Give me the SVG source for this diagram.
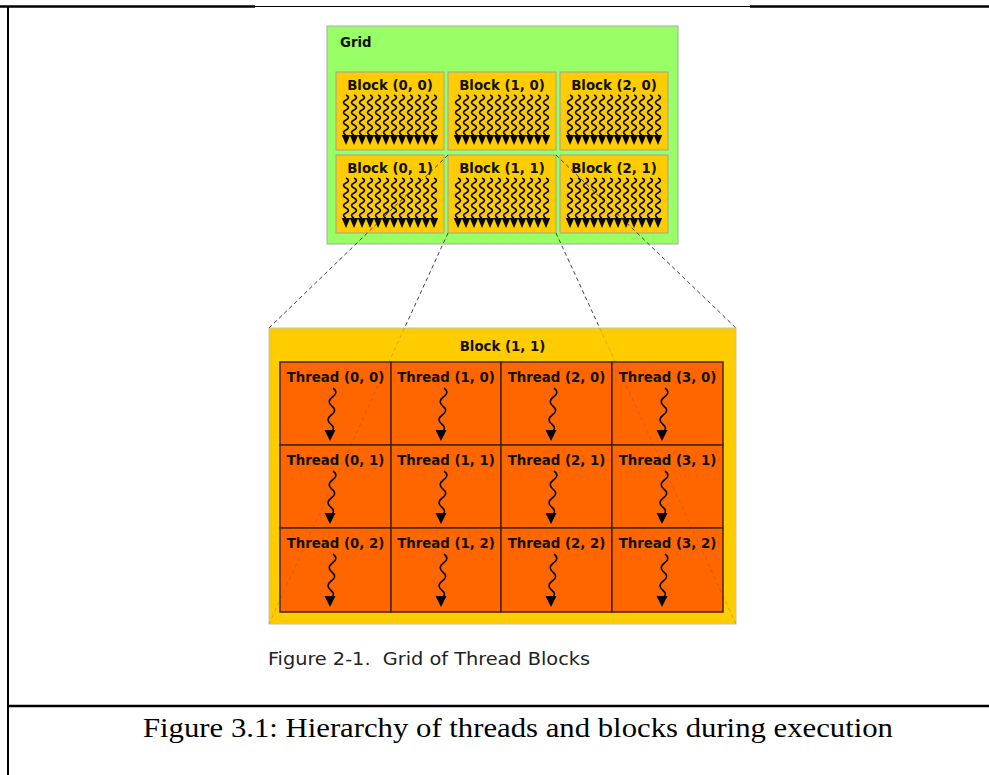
<svg xmlns="http://www.w3.org/2000/svg" xmlns:xlink="http://www.w3.org/1999/xlink" width="989" height="775" viewBox="0 0 989 775">
<style>
.frame{stroke:#000;fill:none}
.lbl{font-family:"DejaVu Sans",Verdana,sans-serif;font-weight:bold;font-size:13.3px;fill:#111100;text-anchor:middle}
.blk{fill:#FFCC00;stroke:#a0a0a0;stroke-width:1}
.cell{fill:#FF6600;stroke:#4a2400;stroke-width:1.5}
.wave{fill:none;stroke:#000;stroke-width:1.6}
.bwave{fill:none;stroke:#000;stroke-width:1.6}
.conn{stroke:#444;stroke-width:1;stroke-dasharray:4 3;fill:none}
.connf{stroke:#444;stroke-opacity:0.25;stroke-width:1;stroke-dasharray:4 3;fill:none}
</style>
<defs>
<g id="sw">
<path class="wave" d="M0 0 q5 2.5 0 5 q-5 2.5 0 5 q5 2.5 0 5 q-5 2.5 0 5 q5 2.5 0 5 q-5 2.5 0 5 q5 2.5 0 5 q-5 2.5 0 5"/>
<polygon points="-4.2,40 4.2,40 0,50" fill="#000"/>
</g>
<g id="thr12">
<use xlink:href="#sw" x="0"/><use xlink:href="#sw" x="8"/><use xlink:href="#sw" x="16"/><use xlink:href="#sw" x="24"/>
<use xlink:href="#sw" x="32"/><use xlink:href="#sw" x="40"/><use xlink:href="#sw" x="48"/><use xlink:href="#sw" x="56"/>
<use xlink:href="#sw" x="64"/><use xlink:href="#sw" x="72"/><use xlink:href="#sw" x="80"/><use xlink:href="#sw" x="88"/>
</g>
<g id="bw">
<path class="bwave" d="M0 0 q6 4.5 -0.6 9 q-6 4.5 -0.6 9 q6 4.5 -0.6 9 q-6 4.5 -0.6 9 q6 4.5 -0.6 9"/>
<polygon points="-8.5,42 2.5,42 -3,53" fill="#000"/>
</g>
</defs>

<g id="page-frame">
<line class="frame" x1="0" y1="6.5" x2="255" y2="6.5" stroke-width="2.5"/>
<line class="frame" x1="255" y1="6.5" x2="750" y2="6.5" stroke-width="1" stroke="#444"/>
<line class="frame" x1="750" y1="6.5" x2="989" y2="6.5" stroke-width="2.5"/>
<line class="frame" x1="8" y1="6" x2="8" y2="775" stroke-width="2"/>
<line class="frame" x1="8" y1="706" x2="989" y2="706" stroke-width="2.5"/>
</g>

<g id="grid">
<rect x="327" y="26" width="351" height="218" fill="#99FF66" stroke="#a8a8a8" stroke-width="1"/>
<text class="lbl" x="340" y="47" style="text-anchor:start">Grid</text>
</g>

<g id="block-0-0"><rect class="blk" x="336" y="72" width="108" height="78"/><text class="lbl" x="390" y="90">Block (0, 0)</text><use xlink:href="#thr12" x="346" y="95"/></g>
<g id="block-1-0"><rect class="blk" x="448" y="72" width="108" height="78"/><text class="lbl" x="502" y="90">Block (1, 0)</text><use xlink:href="#thr12" x="458" y="95"/></g>
<g id="block-2-0"><rect class="blk" x="560" y="72" width="108" height="78"/><text class="lbl" x="614" y="90">Block (2, 0)</text><use xlink:href="#thr12" x="570" y="95"/></g>
<g id="block-0-1"><rect class="blk" x="336" y="155" width="108" height="78"/><text class="lbl" x="390" y="173">Block (0, 1)</text><use xlink:href="#thr12" x="346" y="178"/></g>
<g id="block-1-1"><rect class="blk" x="448" y="155" width="108" height="78"/><text class="lbl" x="502" y="173">Block (1, 1)</text><use xlink:href="#thr12" x="458" y="178"/></g>
<g id="block-2-1"><rect class="blk" x="560" y="155" width="108" height="78"/><text class="lbl" x="614" y="173">Block (2, 1)</text><use xlink:href="#thr12" x="570" y="178"/></g>

<g id="big-block">
<rect x="269" y="328" width="467" height="296" fill="#FFCC00" stroke="#c0c0c0" stroke-width="1"/>
<text class="lbl" x="502.5" y="351">Block (1, 1)</text>
</g>

<g id="thread-0-0"><rect class="cell" x="280" y="362" width="111" height="83"/><text class="lbl" x="335.5" y="382">Thread (0, 0)</text><use xlink:href="#bw" x="333" y="388"/></g>
<g id="thread-1-0"><rect class="cell" x="391" y="362" width="110" height="83"/><text class="lbl" x="446" y="382">Thread (1, 0)</text><use xlink:href="#bw" x="444" y="388"/></g>
<g id="thread-2-0"><rect class="cell" x="501" y="362" width="111" height="83"/><text class="lbl" x="556.5" y="382">Thread (2, 0)</text><use xlink:href="#bw" x="554" y="388"/></g>
<g id="thread-3-0"><rect class="cell" x="612" y="362" width="111" height="83"/><text class="lbl" x="667.5" y="382">Thread (3, 0)</text><use xlink:href="#bw" x="665" y="388"/></g>
<g id="thread-0-1"><rect class="cell" x="280" y="445" width="111" height="83"/><text class="lbl" x="335.5" y="465">Thread (0, 1)</text><use xlink:href="#bw" x="333" y="471"/></g>
<g id="thread-1-1"><rect class="cell" x="391" y="445" width="110" height="83"/><text class="lbl" x="446" y="465">Thread (1, 1)</text><use xlink:href="#bw" x="444" y="471"/></g>
<g id="thread-2-1"><rect class="cell" x="501" y="445" width="111" height="83"/><text class="lbl" x="556.5" y="465">Thread (2, 1)</text><use xlink:href="#bw" x="554" y="471"/></g>
<g id="thread-3-1"><rect class="cell" x="612" y="445" width="111" height="83"/><text class="lbl" x="667.5" y="465">Thread (3, 1)</text><use xlink:href="#bw" x="665" y="471"/></g>
<g id="thread-0-2"><rect class="cell" x="280" y="528" width="111" height="84"/><text class="lbl" x="335.5" y="548">Thread (0, 2)</text><use xlink:href="#bw" x="333" y="554"/></g>
<g id="thread-1-2"><rect class="cell" x="391" y="528" width="110" height="84"/><text class="lbl" x="446" y="548">Thread (1, 2)</text><use xlink:href="#bw" x="444" y="554"/></g>
<g id="thread-2-2"><rect class="cell" x="501" y="528" width="111" height="84"/><text class="lbl" x="556.5" y="548">Thread (2, 2)</text><use xlink:href="#bw" x="554" y="554"/></g>
<g id="thread-3-2"><rect class="cell" x="612" y="528" width="111" height="84"/><text class="lbl" x="667.5" y="548">Thread (3, 2)</text><use xlink:href="#bw" x="665" y="554"/></g>

<g id="connectors">
<line class="conn" x1="448" y1="155" x2="269" y2="328"/>
<line class="conn" x1="556" y1="155" x2="736" y2="328"/>
<line class="conn" x1="448" y1="233" x2="404.5" y2="328"/>
<line class="connf" x1="404.5" y1="328" x2="269" y2="624"/>
<line class="conn" x1="556" y1="233" x2="599.7" y2="328"/>
<line class="connf" x1="599.7" y1="328" x2="736" y2="624"/>
</g>

<g id="captions">
<text x="268" y="665" font-family="'DejaVu Sans Condensed','DejaVu Sans',Tahoma,sans-serif" font-size="17.5" fill="#222" textLength="322" lengthAdjust="spacingAndGlyphs" style="white-space:pre">Figure 2-1.  Grid of Thread Blocks</text>
<text x="143" y="737" font-family="'Liberation Serif','Times New Roman',serif" font-size="28" fill="#000" textLength="750" lengthAdjust="spacingAndGlyphs">Figure 3.1: Hierarchy of threads and blocks during execution</text>
</g>
</svg>
